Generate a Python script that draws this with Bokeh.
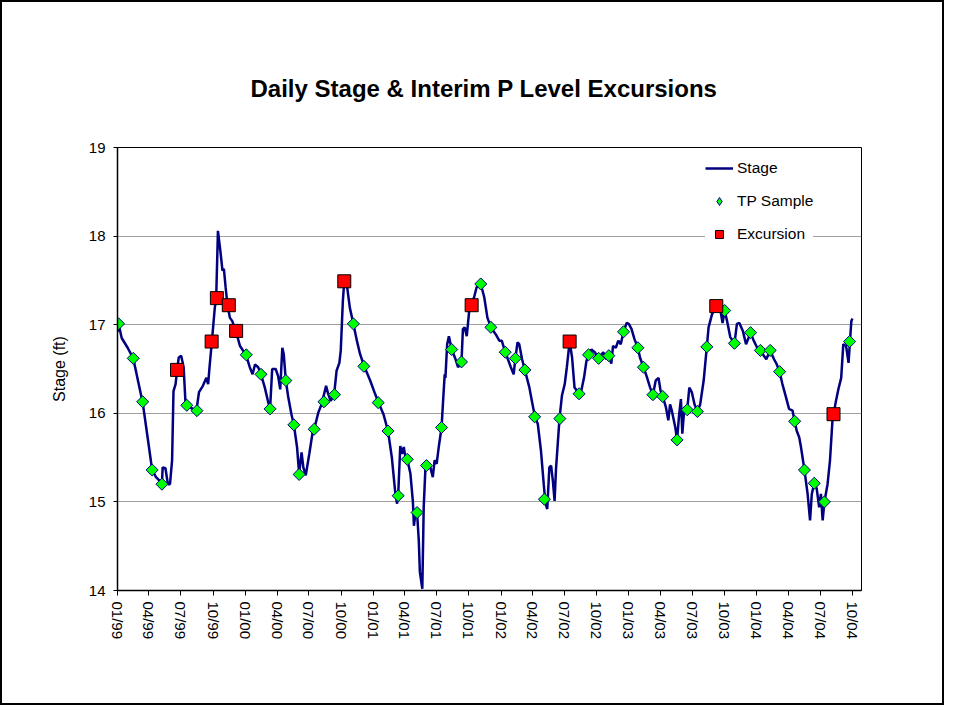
import pandas as pd
from bokeh.plotting import figure
from bokeh.models import (Range1d, FixedTicker, DatetimeTickFormatter, Legend,
                          LegendItem, ColumnDataSource)
from bokeh.embed import file_html
from bokeh.resources import INLINE

ORIGIN = "1999-01-01"   # day 0 of the day offsets below

# Daily stage (ft), sampled along the trace: day offset from ORIGIN and stage
stage_day = [0, 3, 12, 29, 45, 72, 86, 99, 110, 120, 127, 129, 137, 144, 150, 156, 160, 166, 170, 175,
             182, 189, 194, 198, 215, 225, 233, 244, 254, 259, 263, 269, 278, 282, 287, 294, 300, 304, 309, 314,
             321, 328, 338, 350, 367, 378, 386, 393, 402, 410, 421, 431, 436, 442, 452, 459, 465, 471, 475, 481,
             488, 497, 504, 513, 519, 526, 531, 538, 548, 557, 562, 574, 583, 596, 602, 609, 619, 626, 634, 638,
             644, 648, 655, 664, 674, 684, 693, 705, 722, 736, 746, 760, 773, 784, 794, 799, 802, 808, 813, 818,
             823, 828, 837, 844, 847, 851, 856, 861, 864, 871, 875, 880, 885, 894, 901, 906, 912, 918, 926, 931,
             935, 937, 942, 947, 955, 966, 973, 983, 987, 992, 998, 1005, 1009, 1019, 1026, 1038, 1048, 1057, 1067, 1081,
             1091, 1098, 1108, 1124, 1132, 1137, 1143, 1148, 1156, 1164, 1177, 1186, 1193, 1201, 1210, 1218, 1223, 1228, 1234, 1239,
             1244, 1249, 1253, 1263, 1270, 1278, 1284, 1292, 1299, 1306, 1319, 1325, 1333, 1340, 1347, 1354, 1364, 1375, 1388, 1397,
             1404, 1411, 1416, 1424, 1431, 1438, 1446, 1455, 1461, 1469, 1477, 1487, 1493, 1503, 1512, 1522, 1530, 1538, 1546, 1552,
             1558, 1567, 1574, 1579, 1584, 1594, 1599, 1605, 1610, 1614, 1620, 1628, 1634, 1641, 1649, 1657, 1665, 1675, 1684, 1689,
             1699, 1711, 1723, 1729, 1735, 1742, 1751, 1763, 1770, 1777, 1787, 1796, 1809, 1818, 1828, 1837, 1847, 1854, 1865, 1876,
             1883, 1892, 1900, 1909, 1919, 1929, 1935, 1941, 1948, 1953, 1963, 1972, 1979, 1984, 1991, 1998, 2005, 2010, 2015, 2020,
             2029, 2036, 2043, 2053, 2061, 2068, 2074, 2082, 2089, 2093, 2097, 2100]
stage_ft = [16.92, 17.01, 16.85, 16.74, 16.62, 16.12, 15.73, 15.36, 15.28, 15.24, 15.20, 15.39, 15.38, 15.20, 15.20, 15.47, 16.25, 16.33, 16.48, 16.63,
            16.65, 16.52, 16.14, 16.09, 16.05, 16.02, 16.24, 16.31, 16.40, 16.33, 16.52, 16.78, 17.19, 17.30, 18.06, 17.83, 17.61, 17.63, 17.42, 17.23,
            17.08, 17.04, 16.93, 16.76, 16.66, 16.52, 16.44, 16.55, 16.52, 16.44, 16.29, 16.12, 16.05, 16.50, 16.50, 16.42, 16.27, 16.74, 16.67, 16.37,
            16.18, 15.99, 15.87, 15.62, 15.32, 15.56, 15.39, 15.30, 15.54, 15.77, 15.82, 16.01, 16.10, 16.31, 16.22, 16.14, 16.21, 16.48, 16.57, 16.71,
            17.27, 17.49, 17.46, 17.19, 17.01, 16.82, 16.67, 16.53, 16.37, 16.22, 16.12, 15.99, 15.80, 15.50, 15.09, 14.98, 15.07, 15.63, 15.54, 15.62,
            15.50, 15.48, 15.32, 15.01, 14.73, 14.86, 14.88, 14.56, 14.21, 14.02, 14.94, 15.39, 15.42, 15.39, 15.28, 15.47, 15.43, 15.62, 15.84, 16.18,
            16.44, 16.40, 16.78, 16.87, 16.72, 16.61, 16.52, 16.58, 16.95, 16.97, 16.87, 17.16, 17.22, 17.31, 17.42, 17.46, 17.31, 17.08, 16.97, 16.89,
            16.82, 16.82, 16.69, 16.52, 16.44, 16.62, 16.80, 16.78, 16.61, 16.49, 16.29, 16.10, 15.96, 15.88, 15.58, 15.20, 14.98, 14.92, 15.39, 15.41,
            15.24, 15.01, 15.37, 15.94, 16.20, 16.33, 16.52, 16.81, 16.63, 16.29, 16.22, 16.25, 16.40, 16.59, 16.66, 16.72, 16.69, 16.62, 16.69, 16.61,
            16.65, 16.56, 16.76, 16.74, 16.82, 16.78, 16.92, 17.02, 17.01, 16.95, 16.84, 16.74, 16.63, 16.52, 16.42, 16.29, 16.21, 16.37, 16.40, 16.25,
            16.19, 16.07, 15.92, 16.10, 16.03, 15.84, 15.70, 15.99, 16.16, 15.77, 16.07, 16.04, 16.29, 16.24, 16.10, 16.02, 16.10, 16.37, 16.75, 16.97,
            17.12, 17.21, 17.16, 17.02, 17.16, 17.04, 16.86, 16.79, 17.01, 17.02, 16.93, 16.78, 16.91, 16.82, 16.74, 16.71, 16.65, 16.61, 16.71, 16.61,
            16.56, 16.47, 16.33, 16.20, 16.05, 16.03, 15.91, 15.80, 15.73, 15.62, 15.36, 15.09, 14.79, 15.09, 15.21, 15.15, 14.94, 15.09, 14.79, 15.00,
            15.20, 15.47, 15.92, 16.14, 16.29, 16.40, 16.78, 16.76, 16.57, 16.81, 17.04, 17.07]

# TP samples
sample_day = [3, 45, 72, 99, 127, 198, 227, 368, 410, 436, 481, 504, 519, 562, 590, 620, 674, 704, 745, 773,
              802, 828, 856, 883, 926, 955, 983, 1038, 1067, 1108, 1137, 1164, 1192, 1220, 1264, 1319, 1346, 1375, 1404, 1446,
              1487, 1503, 1530, 1558, 1599, 1628, 1657, 1684, 1735, 1763, 1809, 1837, 1865, 1892, 1935, 1963, 1991, 2020, 2092]
sample_ft = [17.01, 16.62, 16.13, 15.36, 15.20, 16.09, 16.03, 16.66, 16.44, 16.05, 16.37, 15.87, 15.31, 15.82, 16.13, 16.21, 17.01, 16.53, 16.12, 15.80,
             15.07, 15.48, 14.88, 15.41, 15.84, 16.72, 16.58, 17.46, 16.97, 16.69, 16.62, 16.49, 15.96, 15.03, 15.94, 16.22, 16.66, 16.62, 16.65, 16.92,
             16.74, 16.52, 16.21, 16.19, 15.70, 16.04, 16.02, 16.75, 17.16, 16.79, 16.91, 16.71, 16.71, 16.47, 15.91, 15.36, 15.21, 15.00, 16.81]

# Interim P level excursions
excursion_day = [170, 269, 284, 318, 339, 648, 1012, 1292, 1711, 2046]
excursion_ft = [16.49, 16.81, 17.30, 17.22, 16.93, 17.49, 17.22, 16.81, 17.21, 15.99]

tick_labels = ["01/99", "04/99", "07/99", "10/99", "01/00", "04/00", "07/00", "10/00",
               "01/01", "04/01", "07/01", "10/01", "01/02", "04/02", "07/02", "10/02",
               "01/03", "04/03", "07/03", "10/03", "01/04", "04/04", "07/04", "10/04"]
y_ticks = [14, 15, 16, 17, 18, 19]

assert len(stage_day) == len(stage_ft)
assert len(sample_day) == len(sample_ft)

t0 = pd.Timestamp(ORIGIN)


def to_dt(days):
    return t0 + pd.to_timedelta(pd.Series(days, dtype="float64"), unit="D")


def to_ms(ts):
    return float((ts - pd.Timestamp("1970-01-01")) / pd.Timedelta(milliseconds=1))


stage_src = ColumnDataSource(dict(x=to_dt(stage_day), y=stage_ft))
sample_src = ColumnDataSource(dict(x=to_dt(sample_day), y=sample_ft))
exc_src = ColumnDataSource(dict(x=to_dt(excursion_day), y=excursion_ft))
key_src = ColumnDataSource(dict(x=[float("nan")], y=[float("nan")]))

FONT = "Liberation Sans"

p = figure(width=944, height=705, output_backend="svg", toolbar_location=None,
           x_axis_type="datetime",
           x_range=Range1d(t0.to_pydatetime(), (t0 + pd.Timedelta(days=2126)).to_pydatetime()),
           y_range=Range1d(14, 19),
           min_border_left=115, min_border_right=85, min_border_top=145, min_border_bottom=117)
p.styles = {"border": "2px solid black", "box-sizing": "border-box"}

p.title.text = "Daily Stage & Interim P Level Excursions"
p.title.align = "left"
p.title.text_font = FONT
p.title.text_font_size = "24px"
p.title.text_font_style = "bold"
p.title.text_color = "black"
p.title.standoff = 92
p.title.offset = 133

p.background_fill_color = "white"
p.border_fill_color = "white"
p.outline_line_color = "black"
p.outline_line_width = 1

# axes
tick_ms = [to_ms(pd.to_datetime(lbl, format="%m/%y")) for lbl in tick_labels]
xa = p.xaxis[0]
xa.ticker = FixedTicker(ticks=tick_ms)
fmt = "%m/%y"
xa.formatter = DatetimeTickFormatter(microseconds=fmt, milliseconds=fmt, seconds=fmt, minsec=fmt,
                                     minutes=fmt, hourmin=fmt, hours=fmt, days=fmt, months=fmt, years=fmt)
xa.major_label_orientation = "vertical"
xa.major_label_text_font = FONT
xa.major_label_text_font_size = "15px"
xa.major_label_text_color = "black"
xa.major_tick_out = 5
xa.major_tick_in = 0
xa.minor_tick_line_color = None
xa.major_label_standoff = 6
xa.axis_line_color = "black"
xa.axis_line_width = 1.5

ya = p.yaxis[0]
ya.ticker = FixedTicker(ticks=y_ticks)
ya.major_label_text_font = FONT
ya.major_label_text_font_size = "15px"
ya.major_label_text_color = "black"
ya.major_tick_out = 4
ya.major_tick_in = 0
ya.minor_tick_line_color = None
ya.major_label_standoff = 8
ya.axis_line_color = "black"
ya.axis_line_width = 1.5
ya.axis_label = "Stage (ft)"
ya.axis_label_text_font = FONT
ya.axis_label_text_font_size = "16px"
ya.axis_label_text_font_style = "normal"
ya.axis_label_text_color = "black"
ya.axis_label_standoff = 18

p.xgrid.grid_line_color = None
p.ygrid.grid_line_color = "#a0a0a0"
p.ygrid.grid_line_width = 1.2

# data
r_line = p.line("x", "y", source=stage_src, line_color="#000080", line_width=2.5)
p.scatter("x", "y", source=sample_src, marker="square", angle=0.7853981634,
          size=8.5, fill_color="#00ff00", line_color="#000080", line_width=1)
r_exc = p.scatter("x", "y", source=exc_src, marker="square", size=13,
                  fill_color="#ff0000", line_color="black", line_width=1)
# legend swatch for the samples (diamond shape)
r_samp_key = p.scatter("x", "y", source=key_src, marker="diamond", size=12,
                       fill_color="#00ff00", line_color="#000080", line_width=1)

legend = Legend(items=[LegendItem(label="Stage", renderers=[r_line]),
                       LegendItem(label="TP Sample", renderers=[r_samp_key]),
                       LegendItem(label="Excursion", renderers=[r_exc])],
                location=(588, 346), padding=18, spacing=13, glyph_height=20, glyph_width=28,
                label_height=20, label_standoff=4, background_fill_color="white",
                background_fill_alpha=1.0, border_line_color=None,
                label_text_font=FONT, label_text_font_size="15.5px", label_text_color="black")
p.add_layout(legend, "center")

open("out.html", "w").write(file_html(p, INLINE))
